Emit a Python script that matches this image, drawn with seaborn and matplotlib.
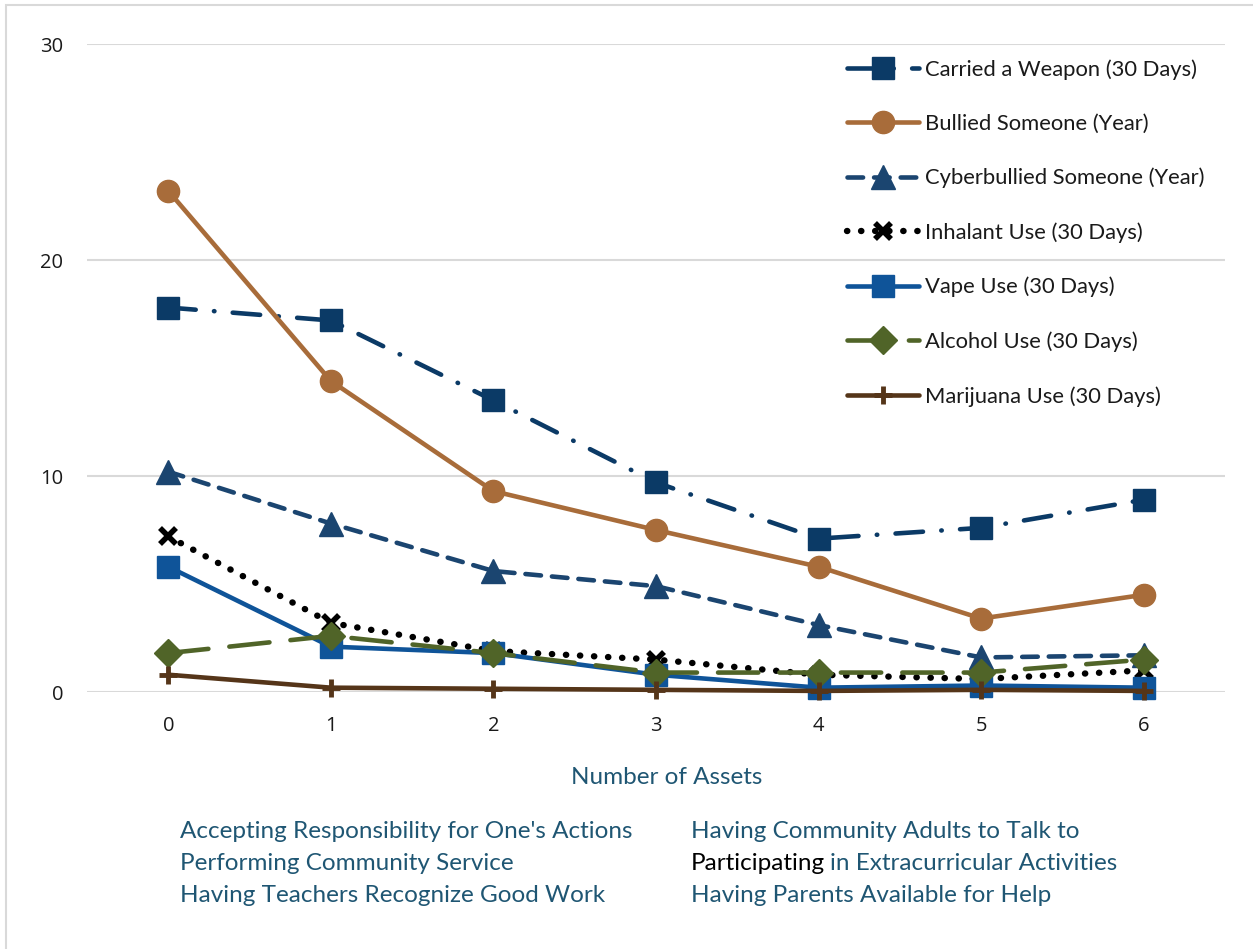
import matplotlib
matplotlib.use("Agg")
import matplotlib.pyplot as plt
import seaborn as sns
import pandas as pd
from matplotlib.patches import Rectangle

# Number of developmental assets held (x axis)
assets = [0, 1, 2, 3, 4, 5, 6]

# Percent of students reporting each behaviour
weapon = [17.8, 17.2, 13.5, 9.7, 7.1, 7.6, 8.9]
bullied = [23.2, 14.4, 9.3, 7.5, 5.8, 3.4, 4.5]
cyberbullied = [10.2, 7.8, 5.6, 4.9, 3.1, 1.6, 1.7]
inhalant = [7.2, 3.2, 1.9, 1.5, 0.8, 0.6, 1.0]
vape = [5.8, 2.1, 1.8, 0.8, 0.2, 0.3, 0.2]
alcohol = [1.8, 2.6, 1.8, 0.9, 0.9, 0.9, 1.5]
marijuana = [0.8, 0.2, 0.15, 0.1, 0.05, 0.1, 0.05]

series_names = [
    "Carried a Weapon (30 Days)",
    "Bullied Someone (Year)",
    "Cyberbullied Someone (Year)",
    "Inhalant Use (30 Days)",
    "Vape Use (30 Days)",
    "Alcohol Use (30 Days)",
    "Marijuana Use (30 Days)",
]
series_values = [weapon, bullied, cyberbullied, inhalant, vape, alcohol, marijuana]

y_ticks = [0, 10, 20, 30]

asset_list_left = [
    "Accepting Responsibility for One's Actions",
    "Performing Community Service",
    "Having Teachers Recognize Good Work",
]
asset_list_right = [
    "Having Community Adults to Talk to",
    "Participating in Extracurricular Activities",
    "Having Parents Available for Help",
]

# Per-series styling: color, marker, marker size, marker edge width, line width, dash pattern
styles = [
    dict(color="#0B3A66", marker="s", ms=16, mew=1, lw=3.3, dashes=(6.0, 4.0, 0.1, 4.0)),
    dict(color="#A86C3A", marker="o", ms=16, mew=1, lw=3.3, dashes=None),
    dict(color="#1B4570", marker="^", ms=17, mew=1, lw=3.3, dashes=(3.4, 2.4)),
    dict(color="#000000", marker="x", ms=12, mew=4, lw=4.6, dashes=(0.05, 2.15)),
    dict(color="#0F5499", marker="s", ms=16, mew=1, lw=3.3, dashes=None),
    dict(color="#506428", marker="D", ms=14, mew=1, lw=3.3, dashes=(8.8, 4.6)),
    dict(color="#553519", marker="+", ms=13, mew=3.5, lw=3.3, dashes=None),
]

sns.set_theme(style="white")
plt.rcParams["font.family"] = ["Open Sans", "DejaVu Sans"]

fig = plt.figure(figsize=(12.53, 9.49), dpi=100)
ax = fig.add_axes([87 / 1253, 1 - 692 / 949, (1225 - 87) / 1253, (692 - 44) / 949])

for name, vals, st in zip(series_names, series_values, styles):
    df = pd.DataFrame({"assets": assets, "pct": vals})
    sns.lineplot(
        data=df, x="assets", y="pct", ax=ax,
        color=st["color"], linewidth=st["lw"],
        marker=st["marker"], markersize=st["ms"],
        markeredgecolor=st["color"], markerfacecolor=st["color"],
        markeredgewidth=st["mew"], clip_on=False, label=name,
        legend=False,
    )
    line = ax.lines[-1]
    line.set_solid_capstyle("round")
    line.set_dash_capstyle("round")
    if st["dashes"] is not None:
        line.set_dashes(st["dashes"])

ax.set_xlim(-0.5, 6.5)
ax.set_ylim(0, 30)
ax.set_xticks(assets)
ax.set_yticks(y_ticks)
ax.tick_params(axis="both", length=0, labelsize=14.5, colors="#1a1a1a")
ax.tick_params(axis="y", pad=17)
ax.tick_params(axis="x", pad=17)
ax.grid(axis="y", color="#D9D9D9", linewidth=1.5)
ax.set_axisbelow(True)
for sp in ax.spines.values():
    sp.set_visible(False)
ax.set_xlabel("")
ax.set_ylabel("")

leg = ax.legend(
    handles=ax.lines[:7], loc="upper left",
    bbox_to_anchor=(847 / 1253, 1 - 59 / 949), bbox_transform=fig.transFigure,
    frameon=False, handlelength=3.3, handletextpad=0.25, labelspacing=1.55,
    borderpad=0, borderaxespad=0, numpoints=1,
    prop={"family": ["Lato", "DejaVu Sans"], "size": 15.8},
)
for t in leg.get_texts():
    t.set_color("#1a1a1a")

text_blue = "#1F5673"
text_font = ["Lato", "DejaVu Sans"]
fig.text(667 / 1253, 1 - 777 / 949, "Number of Assets", ha="center", va="center",
         fontsize=17.5, color=text_blue, family=text_font)

row_y = [832, 864, 896]
for y, txt in zip(row_y, asset_list_left):
    fig.text(180 / 1253, 1 - y / 949, txt, ha="left", va="center",
             fontsize=17.5, color=text_blue, family=text_font)
for y, txt in zip(row_y, asset_list_right):
    if txt.startswith("Participating"):
        first, rest = "Participating", txt[len("Participating") + 1:]
        t1 = fig.text(691 / 1253, 1 - y / 949, first, ha="left", va="center",
                      fontsize=17.5, color="#000000", family=text_font)
        fig.canvas.draw()
        bb = t1.get_window_extent()
        fig.text((bb.x1 + 5) / 1253, 1 - y / 949, rest, ha="left", va="center",
                 fontsize=17.5, color=text_blue, family=text_font)
    else:
        fig.text(691 / 1253, 1 - y / 949, txt, ha="left", va="center",
                 fontsize=17.5, color=text_blue, family=text_font)

# Light frame along the top and left edges
fig.add_artist(Rectangle((6 / 1253, -0.1), 1.2, 1 - 5 / 949 + 0.1,
                         transform=fig.transFigure, fill=False,
                         edgecolor="#D9D9D9", linewidth=1.5))

fig.savefig("out.png", dpi=100)
